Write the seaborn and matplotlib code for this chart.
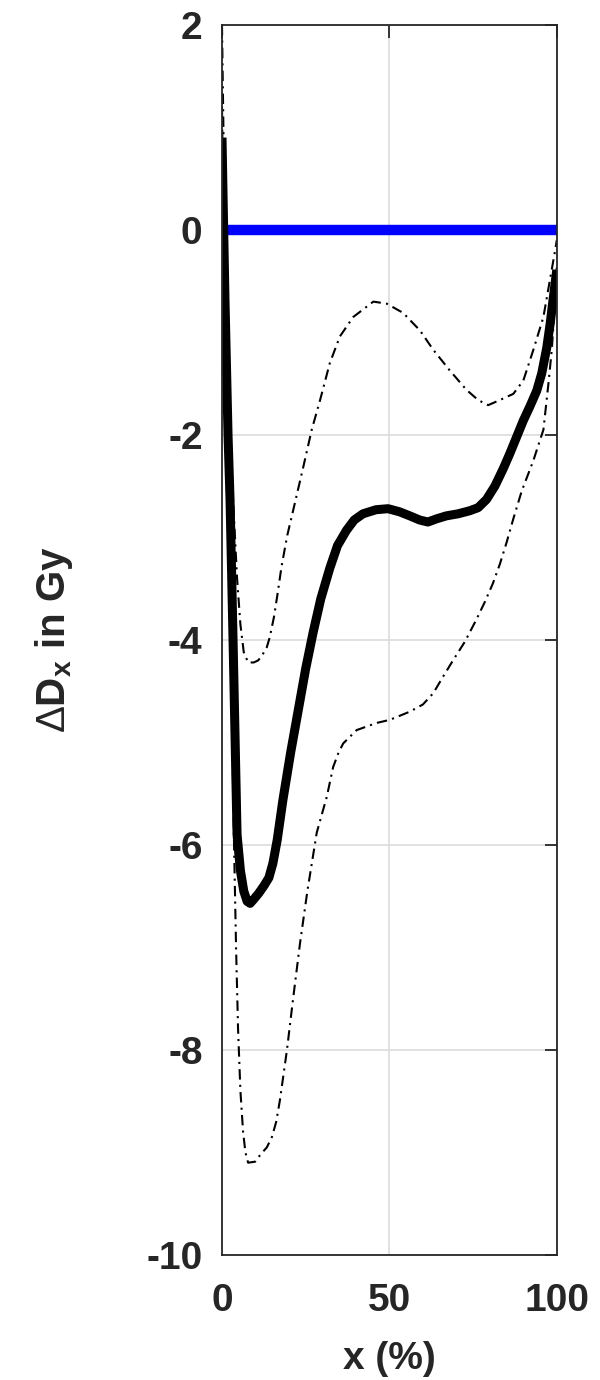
import numpy as np
import pandas as pd
import matplotlib
matplotlib.use("Agg")
import matplotlib.pyplot as plt
import seaborn as sns

# mean dose difference (thick black)
mean_x = [0, 0.5, 0.9, 1.8, 2.4, 3.3, 4.5, 5.5, 6.5, 7.5, 8.4, 9.5, 11, 12.5,
          14.0, 15.2, 16.5, 18.2, 20.5, 23.3, 25, 27.2, 29.5, 32.2, 34.5, 37.2,
          39.5, 42.1, 46, 49.6, 53, 56.1, 59, 61.5, 64, 67, 70.5, 74, 76.5, 79,
          81.5, 84, 86, 88, 90, 92, 94, 95.5, 97, 98, 99, 100]
mean_y = [0.9, 0.0, -0.7, -2.0, -2.63, -4.0, -5.9, -6.25, -6.45, -6.55, -6.57,
          -6.53, -6.47, -6.4, -6.32, -6.18, -5.95, -5.56, -5.1, -4.59, -4.28,
          -3.93, -3.6, -3.3, -3.08, -2.93, -2.83, -2.77, -2.73, -2.72, -2.75,
          -2.79, -2.83, -2.85, -2.82, -2.79, -2.77, -2.74, -2.71, -2.63, -2.5,
          -2.33, -2.18, -2.02, -1.86, -1.72, -1.57, -1.4, -1.15, -0.92, -0.65,
          -0.39]

# upper bound (dash-dot)
upper_x = [0, 0.5, 1, 2, 3.3, 4.5, 5.5, 6.5, 7.8, 9.5, 10.8, 12, 13.4, 14.3,
           15.5, 16.6, 17.8, 19.5, 21.3, 24.3, 26.8, 29.3, 32.2, 35.2, 39.2,
           45.2, 49.2, 54.1, 59.1, 63.1, 68, 73, 76.5, 79.5, 83, 87, 90, 93, 96,
           99.5, 100]
upper_y = [2.0, 0.8, -0.5, -1.8, -2.63, -3.4, -3.85, -4.12, -4.22, -4.22, -4.2,
           -4.15, -4.07, -3.97, -3.78, -3.55, -3.28, -2.98, -2.73, -2.31, -1.95,
           -1.66, -1.3, -1.04, -0.85, -0.7, -0.72, -0.81, -0.98, -1.17, -1.37,
           -1.56, -1.66, -1.71, -1.66, -1.6, -1.47, -1.17, -0.85, -0.2, -0.1]

# lower bound (dash-dot)
lower_x = [0, 0.6, 1.2, 2.0, 2.7, 3.2, 3.6, 4.2, 4.8, 5.5, 6.3, 7.0, 7.8, 9.9,
           11.5, 13.4, 14.9, 16.2, 17.3, 19.4, 21.2, 23.3, 25.5, 28.3, 31.3,
           33.2, 34.8, 36.2, 40.2, 46.2, 50.1, 56.1, 60, 63.1, 66, 69, 72.5, 76,
           78.5, 80.9, 83, 85, 87, 89.5, 93, 96, 97.5, 98.5, 99.5, 100]
lower_y = [1.2, -0.5, -1.5, -2.63, -4.0, -5.2, -6.0, -7.0, -7.8, -8.4, -8.8,
           -9.0, -9.1, -9.09, -9.02, -8.95, -8.85, -8.7, -8.49, -8.0, -7.51,
           -6.96, -6.45, -5.88, -5.53, -5.24, -5.1, -5.01, -4.88, -4.81, -4.78,
           -4.7, -4.63, -4.52, -4.36, -4.2, -4.02, -3.8, -3.63, -3.45, -3.26,
           -3.05, -2.82, -2.55, -2.25, -1.95, -1.5, -1.17, -0.68, -0.35]

# reference line at zero (blue)
ref_x = [0.8, 100]
ref_y = [0, 0]

x_ticks = [0, 50, 100]
y_ticks = [-10, -8, -6, -4, -2, 0, 2]

sns.set_theme(style="white")
plt.rcParams['font.family'] = ['Liberation Sans', 'DejaVu Sans']
plt.rcParams['mathtext.fontset'] = 'custom'
plt.rcParams['mathtext.rm'] = 'Liberation Sans'
plt.rcParams['mathtext.bf'] = 'Liberation Sans:bold'
plt.rcParams['axes.unicode_minus'] = False

fig = plt.figure(figsize=(6, 13.8), dpi=100)
ax = fig.add_axes([0.37, 0.0906, 0.558, 0.8914])

dash_dot = (0, (5, 2.5, 1, 2.5))
sns.lineplot(x=ref_x, y=ref_y, ax=ax, color='#0000ff', lw=7.5, sort=False,
             solid_capstyle='butt')
sns.lineplot(x=upper_x, y=upper_y, ax=ax, color='black', lw=1.5, sort=False,
             linestyle=dash_dot)
sns.lineplot(x=lower_x, y=lower_y, ax=ax, color='black', lw=1.5, sort=False,
             linestyle=dash_dot)
sns.lineplot(x=mean_x, y=mean_y, ax=ax, color='black', lw=6.5, sort=False,
             solid_capstyle='butt', solid_joinstyle='round')

ax.set_xlim(0, 100)
ax.set_ylim(-10, 2)
ax.set_xticks(x_ticks)
ax.set_yticks(y_ticks)
ax.grid(True, color='#dcdcdc', lw=1.2)
ax.set_axisbelow(True)

for sp in ax.spines.values():
    sp.set_color('#262626')
    sp.set_linewidth(1.3)
    sp.set_visible(True)

ax.tick_params(axis='both', which='both', direction='in', length=9, width=1.3,
               color='#262626', top=True, right=True, labelsize=28,
               labelcolor='#262626')
ax.tick_params(axis='y', pad=14)
ax.tick_params(axis='x', pad=20)
for lab in ax.get_xticklabels() + ax.get_yticklabels():
    lab.set_fontweight('bold')

ax.set_xlabel('x (%)', fontsize=28, fontweight='bold', color='#262626',
              labelpad=16)
ax.set_ylabel(r'$\Delta$D$_\mathbf{x}$ in Gy', fontsize=29, fontweight='bold',
              color='#262626')
ax.yaxis.set_label_coords(-0.44, 0.5)

fig.savefig('out.png', dpi=100)
